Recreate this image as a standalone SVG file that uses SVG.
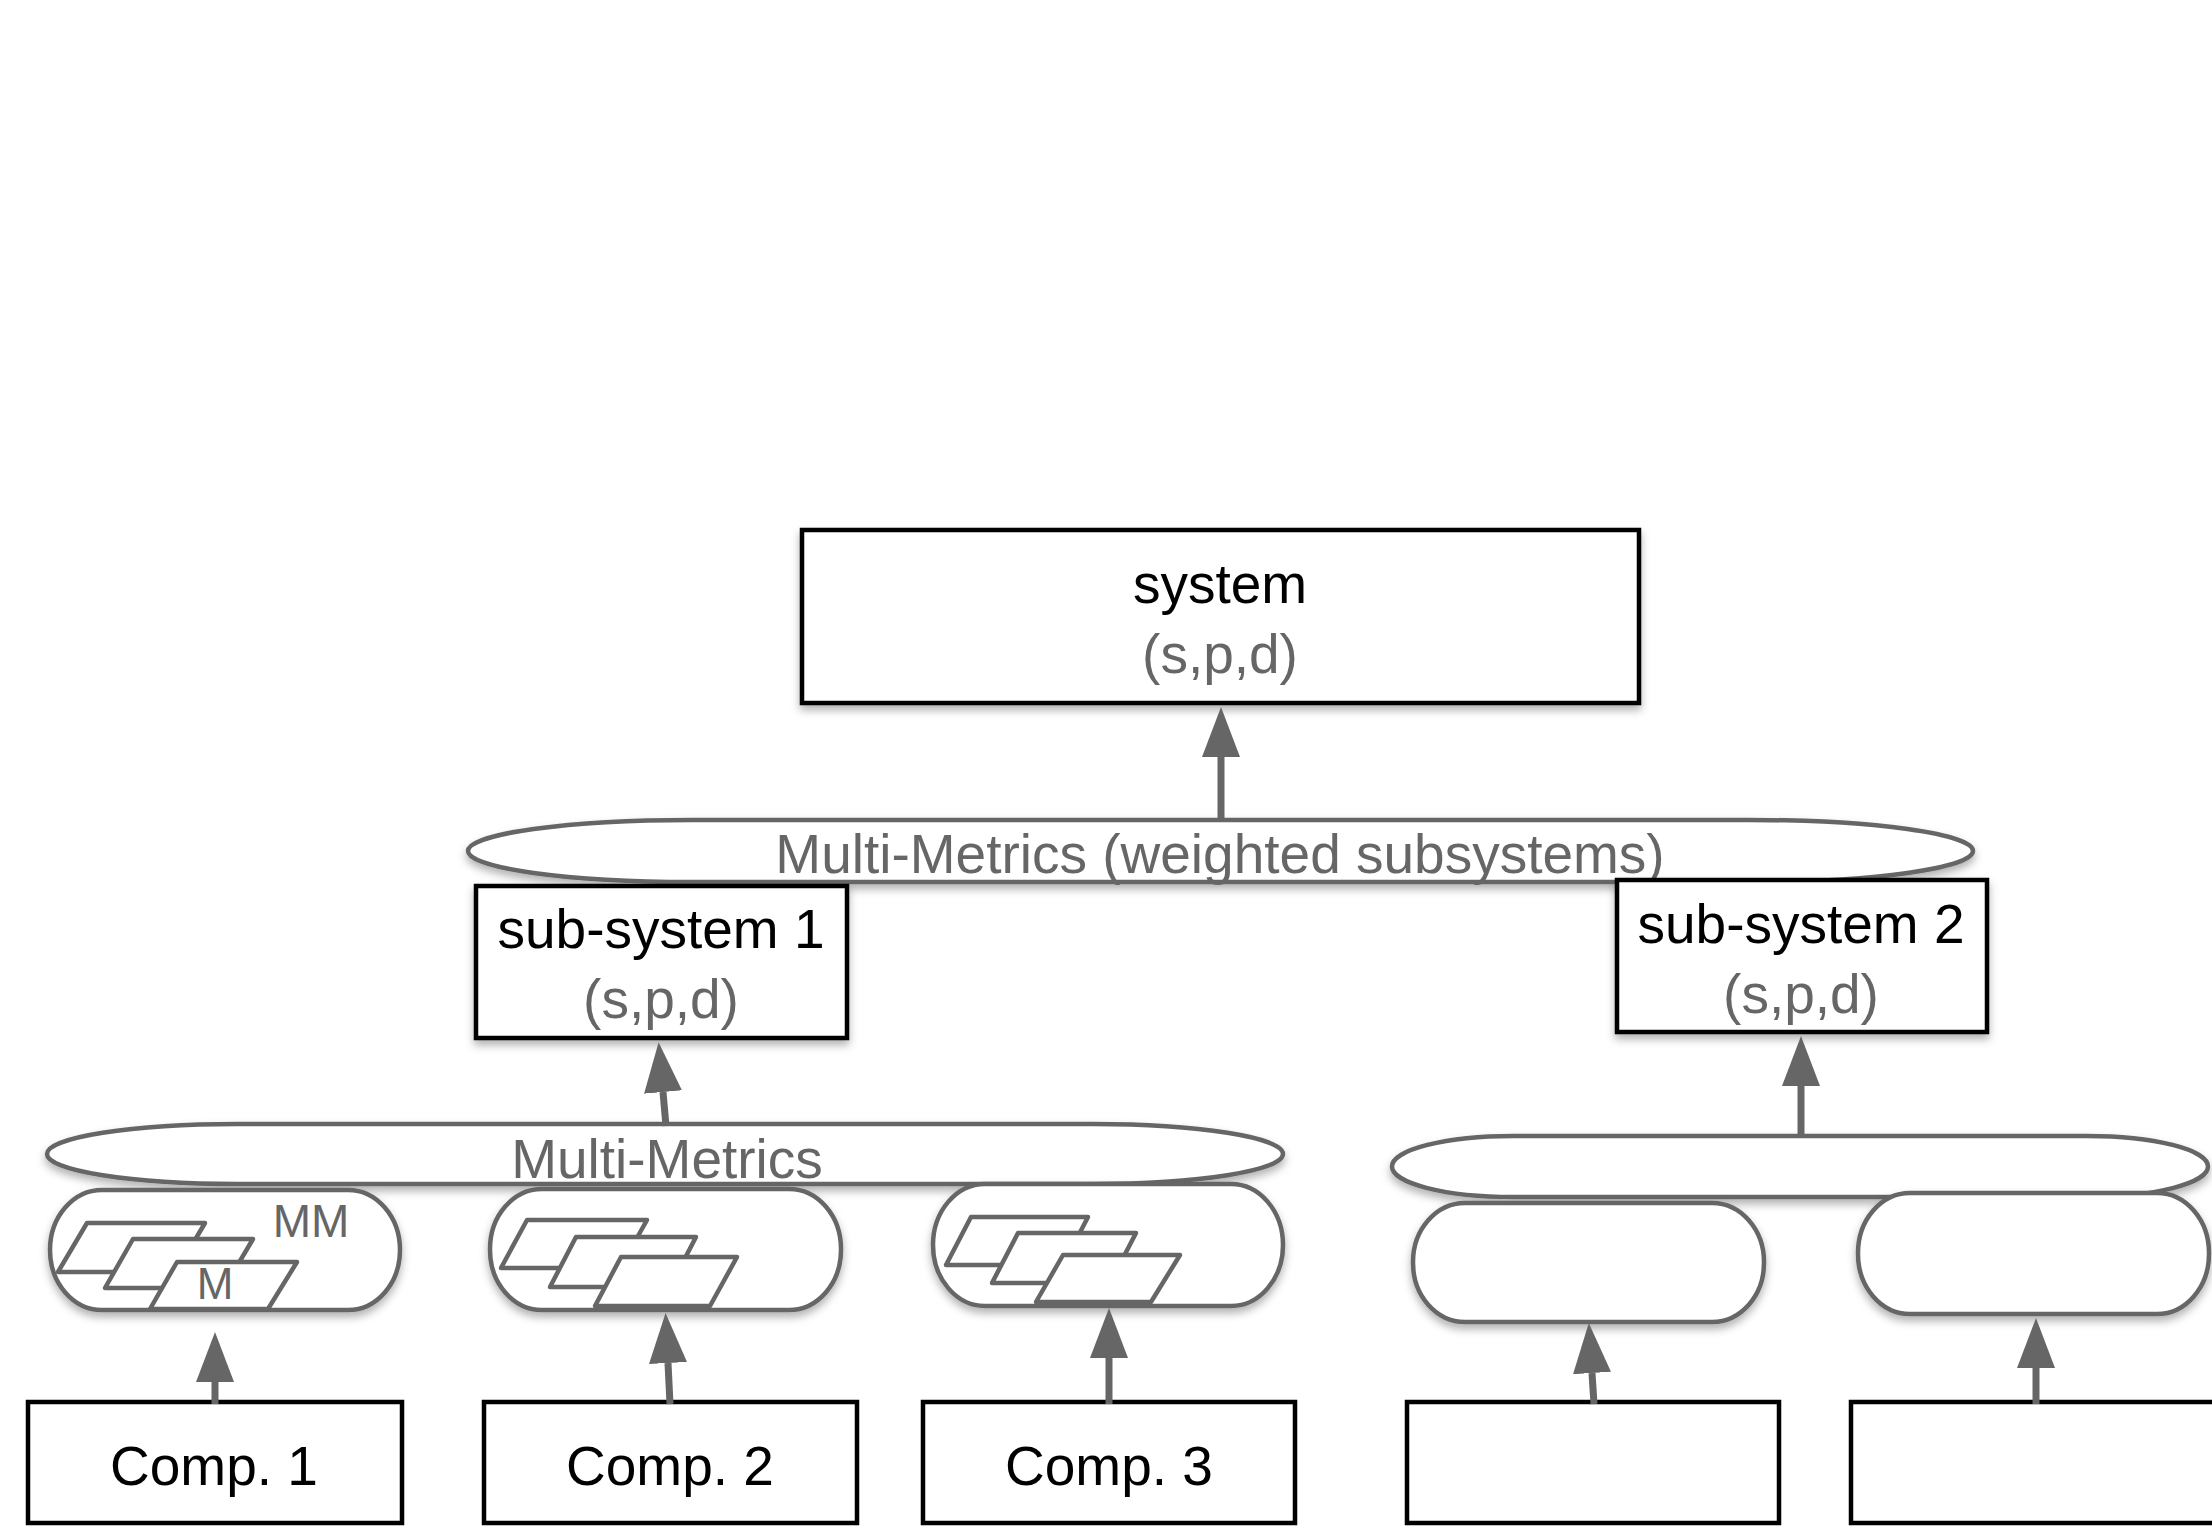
<svg xmlns="http://www.w3.org/2000/svg" width="2212" height="1526" viewBox="0 0 2212 1526">
<style>
.box{fill:#fff;stroke:#000;stroke-width:4.5}
.mm{fill:#fff;stroke:#666;stroke-width:4.5}
.pg{fill:#fff;stroke:#666;stroke-width:4.5;stroke-linejoin:round}
.t{font-family:"Liberation Sans",Arial,Helvetica,sans-serif;font-size:55px;text-anchor:middle}
.k{fill:#000}
.g{fill:#666}
.arr{stroke:#666;stroke-width:7;fill:none;marker-end:url(#ah)}
</style>
<defs>
<filter id="sh" x="-10%" y="-20%" width="120%" height="150%">
<feDropShadow dx="0" dy="5" stdDeviation="4" flood-color="#000" flood-opacity="0.3"/>
</filter>
<marker id="ah" markerUnits="userSpaceOnUse" markerWidth="52" markerHeight="40" viewBox="0 -20 52 40" refX="0" refY="0" orient="auto">
<path d="M0,-19 L50,0 L0,19 Z" fill="#666"/>
</marker>
</defs>
<rect width="2212" height="1526" fill="#fff"/>

<g id="system">
<rect class="box" filter="url(#sh)" x="802" y="530" width="837" height="173"/>
<text class="t k" x="1220" y="603">system</text>
<text class="t g" x="1220" y="673">(s,p,d)</text>
</g>

<g id="mm-top">
<path class="mm" filter="url(#sh)" d="M692,820 H1749 A224,31 0 0 1 1749,882 H692 A224,31 0 0 1 692,820 Z"/>
<text class="t g" x="1220" y="873">Multi-Metrics (weighted subsystems)</text>
</g>

<g id="subsystem1">
<rect class="box" filter="url(#sh)" x="476" y="886" width="371" height="152"/>
<text class="t k" x="661" y="948">sub-system 1</text>
<text class="t g" x="661" y="1018">(s,p,d)</text>
</g>

<g id="subsystem2">
<rect class="box" filter="url(#sh)" x="1617" y="880" width="370" height="152"/>
<text class="t k" x="1801" y="943">sub-system 2</text>
<text class="t g" x="1801" y="1013">(s,p,d)</text>
</g>

<g id="mm-left">
<path class="mm" filter="url(#sh)" d="M237,1124 H1093 A190,30 0 0 1 1093,1184 H237 A190,30 0 0 1 237,1124 Z"/>
<text class="t g" x="667" y="1178">Multi-Metrics</text>
</g>

<g id="mm-right">
<path class="mm" filter="url(#sh)" d="M1513,1136 H2087 A121,30.5 0 0 1 2087,1197 H1513 A121,30.5 0 0 1 1513,1136 Z"/>
</g>

<g id="metric1">
<rect class="mm" filter="url(#sh)" x="50" y="1190" width="350" height="120" rx="52" ry="60"/>
<polygon class="pg" points="87,1223 205,1223 176,1272 58,1272"/>
<polygon class="pg" points="133,1239 253,1239 224,1288 105,1288"/>
<polygon class="pg" points="177,1262 297,1262 268,1309 150,1309"/>
<text class="t g" x="311" y="1237" style="font-size:46px">MM</text>
<text class="t g" x="215" y="1299" style="font-size:44px">M</text>
</g>

<g id="metric2">
<rect class="mm" filter="url(#sh)" x="490" y="1189" width="351" height="121" rx="52" ry="60"/>
<polygon class="pg" points="527,1220 647,1220 620,1268 501,1268"/>
<polygon class="pg" points="576,1237 696,1237 670,1287 550,1287"/>
<polygon class="pg" points="621,1257 737,1257 710,1306 595,1306"/>
</g>

<g id="metric3">
<rect class="mm" filter="url(#sh)" x="933" y="1184" width="350" height="122" rx="52" ry="61"/>
<polygon class="pg" points="971,1217 1088,1217 1063,1265 946,1265"/>
<polygon class="pg" points="1018,1233 1136,1233 1110,1283 992,1283"/>
<polygon class="pg" points="1063,1255 1180,1255 1151,1302 1036,1302"/>
</g>

<g id="metric4">
<rect class="mm" filter="url(#sh)" x="1413" y="1203" width="351" height="119" rx="52" ry="59"/>
</g>

<g id="metric5">
<rect class="mm" filter="url(#sh)" x="1858" y="1193" width="351" height="121" rx="52" ry="60"/>
</g>

<g id="comp1">
<rect class="box" x="28" y="1402" width="374" height="121"/>
<text class="t k" x="214" y="1485">Comp. 1</text>
</g>
<g id="comp2">
<rect class="box" x="484" y="1402" width="373" height="121"/>
<text class="t k" x="670" y="1485">Comp. 2</text>
</g>
<g id="comp3">
<rect class="box" x="923" y="1402" width="372" height="121"/>
<text class="t k" x="1109" y="1485">Comp. 3</text>
</g>
<g id="comp4">
<rect class="box" x="1407" y="1402" width="372" height="121"/>
</g>
<g id="comp5">
<rect class="box" x="1851" y="1402" width="373" height="121"/>
</g>

<g id="connectors">
<line class="arr" x1="1221" y1="820" x2="1221" y2="757"/>
<line class="arr" x1="666" y1="1126" x2="663" y2="1092"/>
<line class="arr" x1="1801" y1="1137" x2="1801" y2="1086"/>
<line class="arr" x1="215" y1="1404" x2="215" y2="1382"/>
<line class="arr" x1="670" y1="1404" x2="668" y2="1363"/>
<line class="arr" x1="1109" y1="1404" x2="1109" y2="1358"/>
<line class="arr" x1="1594" y1="1404" x2="1592" y2="1373"/>
<line class="arr" x1="2036" y1="1404" x2="2036" y2="1368"/>
</g>
</svg>
